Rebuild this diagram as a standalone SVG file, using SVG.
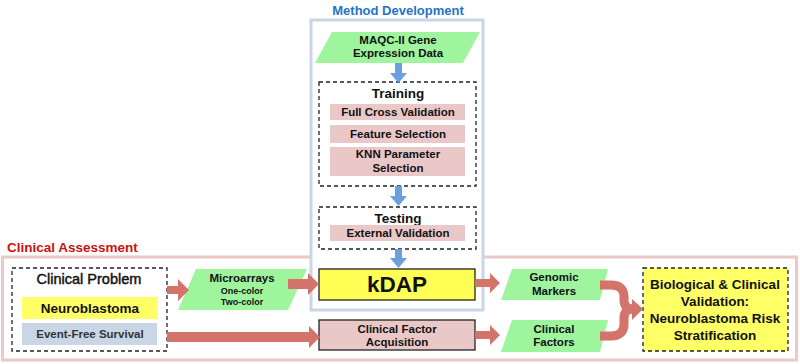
<svg xmlns="http://www.w3.org/2000/svg" width="800" height="364" viewBox="0 0 800 364">
<defs>
<style>
text{font-family:"Liberation Sans",Arial,sans-serif;font-weight:bold;text-anchor:middle;fill:#111}
.dash{fill:none;stroke:#222;stroke-width:1.3;stroke-dasharray:4 3}
.pink{fill:#ebc8c8}
.green{fill:#9ef59e}
.t11{font-size:11.5px}
.red{fill:#d4736a}
.redl{fill:none;stroke:#d4736a}
.blue{fill:#6b9fe0}
</style>
</defs>
<rect width="800" height="364" fill="#fff"/>

<!-- Clinical assessment frame -->
<g id="clinical-assessment">
<text x="7" y="252" style="font-size:13.5px;text-anchor:start;fill:#cc1111">Clinical Assessment</text>
<rect x="2.5" y="257" width="794" height="103" fill="none" stroke="#ecc8c8" stroke-width="3"/>
</g>

<!-- Method development frame -->
<g id="method-development">
<text x="398" y="15" style="font-size:13px;fill:#1f74c8">Method Development</text>
<rect x="311" y="20" width="172" height="290" fill="#fff" stroke="#c8d6e8" stroke-width="3"/>
</g>

<g id="maqc">
<polygon class="green" points="332,32 480,32 463,63 315,63"/>
<text class="t11" x="398" y="44">MAQC-II Gene</text>
<text class="t11" x="398" y="57">Expression Data</text>
</g>

<g id="training">
<rect class="dash" x="319" y="82" width="157" height="104"/>
<text x="398" y="98" style="font-size:13.5px">Training</text>
<rect class="pink" x="330" y="104" width="135" height="16"/>
<text class="t11" x="398" y="116">Full Cross Validation</text>
<rect class="pink" x="330" y="125" width="135" height="18"/>
<text class="t11" x="398" y="138">Feature Selection</text>
<rect class="pink" x="330" y="147" width="135" height="29"/>
<text class="t11" x="398" y="158">KNN Parameter</text>
<text class="t11" x="398" y="172">Selection</text>
</g>

<g id="testing">
<rect class="dash" x="319" y="207" width="157" height="42"/>
<text x="398" y="223" style="font-size:13.5px">Testing</text>
<rect class="pink" x="330" y="225" width="135" height="16"/>
<text class="t11" x="398" y="237">External Validation</text>
</g>

<g id="kdap">
<rect x="319" y="269" width="156" height="31" fill="#ffff55" stroke="#222" stroke-width="1.3"/>
<text x="397" y="292" style="font-size:22.5px">kDAP</text>
</g>

<g id="clinical-factor-acquisition">
<rect x="319" y="320" width="156" height="30" fill="#ebc8c8" stroke="#222" stroke-width="1.3"/>
<text class="t11" x="397" y="333">Clinical Factor</text>
<text class="t11" x="397" y="346">Acquisition</text>
</g>

<g id="clinical-problem">
<rect class="dash" x="12" y="268" width="155" height="83"/>
<text x="89" y="284" style="font-size:14.5px;font-weight:normal;stroke:#111;stroke-width:0.45">Clinical Problem</text>
<rect x="22" y="297" width="135" height="22" fill="#ffff66"/>
<text x="90" y="313" style="font-size:13.5px">Neuroblastoma</text>
<rect x="22" y="323" width="135" height="22" fill="#c8d6e6"/>
<text x="90" y="338" style="font-size:11.5px;fill:#333">Event-Free Survival</text>
</g>

<g id="microarrays">
<polygon class="green" points="196,269 307,269 288,310 178,310"/>
<text class="t11" x="242" y="282">Microarrays</text>
<text x="242" y="294" style="font-size:9px">One-color</text>
<text x="242" y="305" style="font-size:9px">Two-color</text>
</g>

<g id="genomic-markers">
<polygon class="green" points="512,269 608,269 600,300 501,300"/>
<text class="t11" x="554" y="281">Genomic</text>
<text class="t11" x="554" y="295">Markers</text>
</g>

<g id="clinical-factors">
<polygon class="green" points="512,320 608,320 600,352 501,352"/>
<text class="t11" x="554" y="333">Clinical</text>
<text class="t11" x="554" y="346">Factors</text>
</g>

<g id="validation">
<rect x="643" y="268" width="145" height="83" fill="#ffff66" stroke="#222" stroke-width="1.3" stroke-dasharray="4 3"/>
<text x="715" y="289" style="font-size:13.5px">Biological &amp; Clinical</text>
<text x="715" y="306" style="font-size:13.5px">Validation:</text>
<text x="715" y="323" style="font-size:13.5px">Neuroblastoma Risk</text>
<text x="715" y="340" style="font-size:13.5px">Stratification</text>
</g>

<g id="connectors">
<!-- blue arrows -->
<polygon class="blue" points="395,63 402,63 402,73 407,73 398.5,83 390,73 395,73"/>
<polygon class="blue" points="395,186 402,186 402,196 407,196 398.5,206 390,196 395,196"/>
<polygon class="blue" points="395,249 402,249 402,258 407,258 398.5,268 390,258 395,258"/>
<!-- red arrows -->
<polygon class="red" points="167,286 178,286 178,279 189,290 178,301 178,294 167,294"/>
<polygon class="red" points="288,279 308,279 308,273 319,284 308,295 308,289 288,289"/>
<polygon class="red" points="167,332 309,332 309,326 320,337 309,348 309,342 167,342"/>
<polygon class="red" points="475,279 490,279 490,273 500,283 490,293 490,287 475,287"/>
<polygon class="red" points="475,331 490,331 490,325 500,335 490,345 490,339 475,339"/>
<!-- merge -->
<path class="redl" stroke-width="9" d="M600,285 H611 Q624,285 624,297 V300 Q624,309 633,309"/>
<path class="redl" stroke-width="9" d="M600,336 H611 Q624,336 624,324 V318 Q624,309 633,309"/>
<polygon class="red" points="632,299 643,309 632,320"/>
</g>
</svg>
